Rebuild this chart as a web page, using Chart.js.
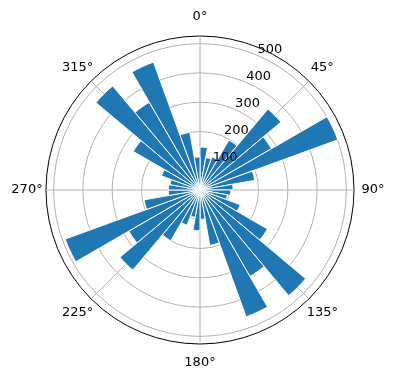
<!DOCTYPE html>
<html>
<head>
<meta charset="utf-8">
<script src="https://cdn.jsdelivr.net/npm/chart.js@4/dist/chart.umd.min.js"></script>
<style>
html,body{margin:0;padding:0;background:#fff;}
#wrap{width:396px;height:380px;position:relative;}
</style>
</head>
<body>
<div id="wrap"><canvas id="c"></canvas></div>
<script>
// Angle labels shown around the polar axis (every 45°)
const angleLabels = ['0°', '45°', '90°', '135°', '180°', '225°', '270°', '315°'];
// Start of each 10° direction bin (bins run clockwise from north)
const binStarts = [0, 10, 20, 30, 40, 50, 60, 70, 80, 90, 100, 110,
                   120, 130, 140, 150, 160, 170, 180, 190, 200, 210, 220, 230,
                   240, 250, 260, 270, 280, 290, 300, 310, 320, 330, 340, 350];
// Bar heights
const counts = [147, 112, 120, 197, 361, 282, 501, 190, 113, 105, 95, 146,
                266, 471, 341, 461, 192, 100, 139, 95, 128, 200, 357, 281,
                490, 194, 108, 108, 104, 140, 263, 464, 346, 465, 200, 113];
// Radial tick labels
const radialTicks = [100, 200, 300, 400, 500];
const rMax = 526;

const FONT = '"DejaVu Sans", "Liberation Sans", sans-serif';

const mplLabels = {
  id: 'mplLabels',
  afterDraw(chart) {
    const s = chart.scales.r;
    const ctx = chart.ctx;
    ctx.save();
    ctx.font = '13px ' + FONT;
    ctx.fillStyle = '#000';
    ctx.textAlign = 'center';
    ctx.textBaseline = 'middle';
    angleLabels.forEach((t, i) => {
      const p = s.getPointPosition(i, s.drawingArea + 19);
      ctx.fillText(t, p.x, p.y);
    });
    ctx.textAlign = 'left';
    ctx.textBaseline = 'alphabetic';
    const a = 22.5 * Math.PI / 180;
    radialTicks.forEach(v => {
      const d = s.getDistanceFromCenterForValue(v);
      ctx.fillText(String(v), s.xCenter + d * Math.sin(a) + 1.5, s.yCenter - d * Math.cos(a) - 1.5);
    });
    ctx.restore();
  }
};

new Chart(document.getElementById('c'), {
  type: 'polarArea',
  data: {
    labels: angleLabels,
    datasets: [{
      label: 'count',
      data: counts,
      backgroundColor: '#1f77b4',
      borderColor: '#ffffff',
      borderWidth: 1
    }]
  },
  options: {
    responsive: true,
    maintainAspectRatio: false,
    animation: false,
    layout: { padding: { left: 46, right: 42, top: 36, bottom: 36 } },
    plugins: { legend: { display: false }, tooltip: { enabled: false } },
    scales: {
      r: {
        type: 'radialLinear',
        min: 0,
        max: rMax,
        startAngle: 0,
        z: 1,
        ticks: { display: false, stepSize: 100 },
        grid: {
          circular: true,
          color: c => (c.tick && c.tick.value === rMax) ? '#000000' : '#b0b0b0',
          lineWidth: 1
        },
        angleLines: { display: true, color: '#b0b0b0', lineWidth: 1 },
        pointLabels: { display: false }
      }
    }
  },
  plugins: [mplLabels]
});
</script>
</body>
</html>
